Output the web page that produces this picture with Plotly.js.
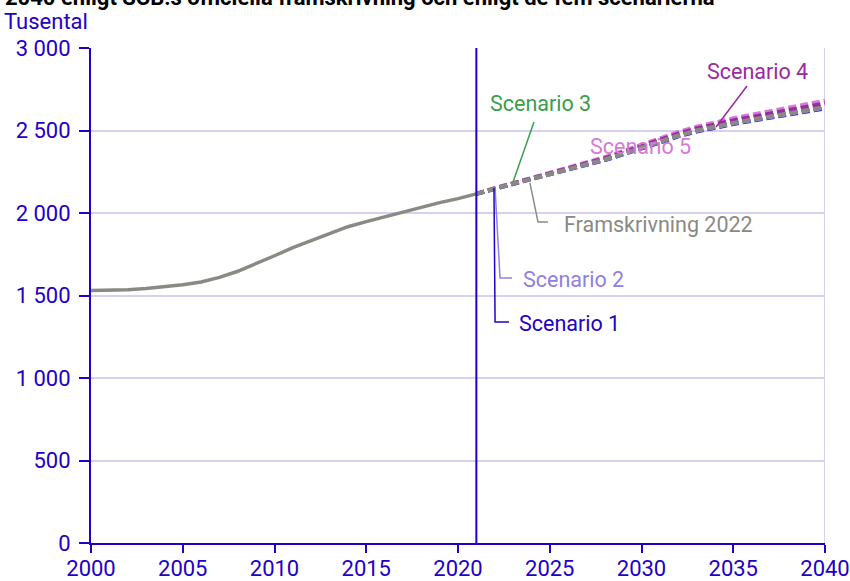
<!DOCTYPE html>
<html><head><meta charset="utf-8">
<script src="https://cdn.plot.ly/plotly-3.0.1.min.js"></script>
<style>html,body{margin:0;padding:0;background:#fff}#c{width:850px;height:581px}</style>
</head><body><div id="c"></div>
<script>
const histYears = [2000,2001,2002,2003,2004,2005,2006,2007,2008,2009,2010,2011,2012,2013,2014,2015,2016,2017,2018,2019,2020,2021];
const histValues = [1531,1532,1535,1542,1553,1565,1582,1610,1647,1692,1741,1790,1834,1877,1917,1948,1977,2004,2033,2063,2087,2116];
const projYears = [2021,2022,2023,2024,2025,2026,2027,2028,2029,2030,2031,2032,2033,2034,2035,2036,2037,2038,2039,2040];
const framskrivning2022 = [2116,2150,2178,2207,2236,2264,2293,2325,2360,2397,2435,2470,2500,2525,2546,2566,2585,2604,2623,2642];
const scenario1 = [2116,2149,2176,2205,2233,2261,2289,2320,2355,2391,2429,2464,2494,2518,2539,2559,2578,2596,2615,2634];
const scenario2 = [2116,2149,2177,2206,2234,2262,2291,2322,2357,2394,2432,2467,2497,2521,2542,2562,2581,2600,2619,2638];
const scenario3 = [2116,2150,2178,2208,2237,2265,2294,2327,2362,2399,2437,2472,2503,2528,2549,2569,2589,2608,2627,2647];
const scenario4 = [2116,2151,2180,2210,2240,2269,2299,2332,2368,2406,2445,2481,2512,2538,2561,2582,2602,2623,2643,2664];
const scenario5 = [2116,2152,2181,2212,2243,2273,2304,2338,2375,2414,2454,2491,2523,2550,2574,2596,2618,2640,2661,2680];

const cGray = '#8a8a84', cS1 = '#2200c8', cS2 = '#8f80e2', cS3 = '#3a9e4a', cS4 = '#9a2aa0', cS5 = '#d57ad5';
const axisCol = '#2200c8';
const dash = '8px,4px';

function proj(y, col, name) {
  return {x: projYears, y: y, type: 'scatter', mode: 'lines', name: name,
    line: {color: col, width: 4, dash: dash}, hoverinfo: 'skip'};
}
const traces = [
  proj(scenario1, cS1, 'Scenario 1'),
  proj(scenario2, cS2, 'Scenario 2'),
  proj(scenario3, cS3, 'Scenario 3'),
  proj(scenario5, cS5, 'Scenario 5'),
  proj(scenario4, cS4, 'Scenario 4'),
  proj(framskrivning2022, cGray, 'Framskrivning 2022'),
  {x: histYears, y: histValues, type: 'scatter', mode: 'lines', name: 'Utfall',
    line: {color: cGray, width: 3.5}, hoverinfo: 'skip'}
];

const fnt = 'Roboto, sans-serif';
function lbl(text, x, y, col, xanchor) {
  return {text: text, x: x, y: y, xref: 'x', yref: 'y', showarrow: false,
    xanchor: xanchor || 'left', yanchor: 'middle', font: {family: fnt, size: 21.5, color: col}};
}
function path(pts, col) {
  let d = 'M' + pts.map(p => p[0] + ',' + p[1]).join(' L');
  return {type: 'path', xref: 'x', yref: 'y', path: d, line: {color: col, width: 1.5}};
}

const layout = {
  width: 850, height: 581,
  margin: {l: 91, r: 25, t: 48, b: 38},
  paper_bgcolor: '#fff', plot_bgcolor: '#fff',
  showlegend: false,
  separators: ', ',
  font: {family: fnt, color: axisCol, size: 22},
  xaxis: {range: [2000, 2040], tickvals: [2000,2005,2010,2015,2020,2025,2030,2035,2040],
    showgrid: false, zeroline: false, showline: true, linecolor: axisCol, linewidth: 2,
    ticks: 'outside', ticklen: 8, tickwidth: 2, tickcolor: axisCol, ticklabelstandoff: -3,
    tickfont: {family: fnt, size: 22, color: axisCol}, fixedrange: true},
  yaxis: {range: [0, 3000], tickvals: [0,500,1000,1500,2000,2500,3000], tickformat: ',d',
    showgrid: true, gridcolor: '#d4d2f2', gridwidth: 2, zeroline: false,
    showline: true, linecolor: axisCol, linewidth: 2,
    ticks: 'outside', ticklen: 10, tickwidth: 2, tickcolor: axisCol, ticklabelstandoff: 4,
    tickfont: {family: fnt, size: 22, color: axisCol}, fixedrange: true},
  shapes: [
    {type: 'line', xref: 'x', yref: 'paper', x0: 2040, x1: 2040, y0: 0, y1: 1, line: {color: '#d4d2f2', width: 2}, layer: 'below'},
    {type: 'line', xref: 'x', yref: 'paper', x0: 2021, x1: 2021, y0: 0, y1: 1, line: {color: axisCol, width: 2}},
    path([[2023.92,2182],[2024.36,1945],[2024.9,1945]], cGray),
    path([[2022.02,2152],[2022.29,1606],[2022.94,1606]], cS2),
    path([[2021.96,2152],[2022.02,1339],[2022.78,1339]], cS1),
    path([[2024.14,2552],[2023.0,2188]], cS3),
    path([[2035.75,2770],[2034.06,2521]], cS4)
  ],
  annotations: [
    {text: '<b>2040 enligt SCB:s officiella framskrivning och enligt de fem scenarierna</b>', xref: 'paper', yref: 'paper',
      x: 0, y: 1, xanchor: 'left', yanchor: 'bottom', xshift: -88, yshift: 36, showarrow: false,
      font: {family: fnt, size: 22, color: '#000'}},
    {text: 'Tusental', xref: 'paper', yref: 'paper', x: 0, y: 1, xanchor: 'left', yanchor: 'bottom',
      xshift: -89, yshift: 12, showarrow: false, font: {family: fnt, size: 22, color: axisCol}},
    lbl('Scenario 4', 2036.3, 2855, cS4, 'center'),
    lbl('Scenario 3', 2024.47, 2661, cS3, 'center'),
    lbl('Scenario 5', 2029.97, 2406, cS5, 'center'),
    lbl('Framskrivning 2022', 2025.67, 1930, cGray),
    lbl('Scenario 2', 2023.43, 1600, cS2),
    lbl('Scenario 1', 2023.2, 1333, cS1)
  ]
};
Plotly.newPlot('c', traces, layout, {displayModeBar: false, staticPlot: true});
</script></body></html>
